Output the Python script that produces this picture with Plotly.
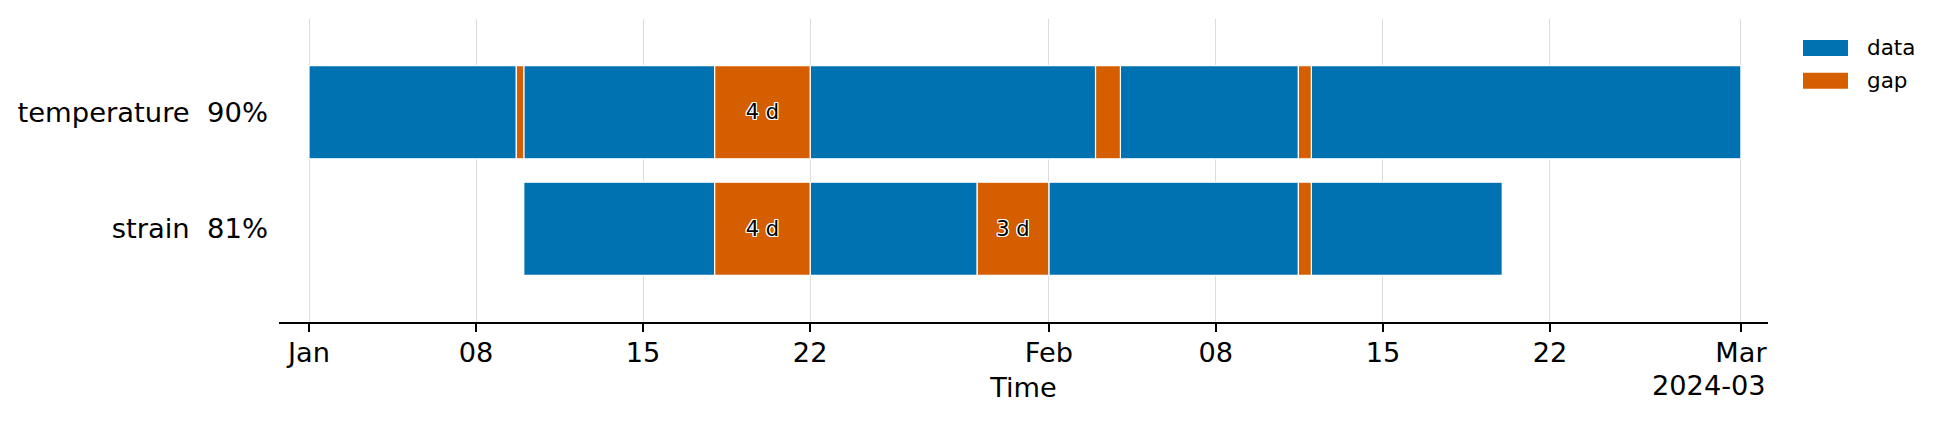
import plotly.graph_objects as go
import pandas as pd

# ---- data ----
channels = ["temperature", "strain"]
coverage_pct = [90, 81]

# segments per channel: (start, end, kind)
temperature_segments = [
    ("2024-01-01 00:00", "2024-01-09 16:30", "data"),
    ("2024-01-09 16:30", "2024-01-10 00:00", "gap"),
    ("2024-01-10 00:00", "2024-01-18 00:00", "data"),
    ("2024-01-18 00:00", "2024-01-22 00:00", "gap"),
    ("2024-01-22 00:00", "2024-02-02 23:00", "data"),
    ("2024-02-02 23:00", "2024-02-04 00:00", "gap"),
    ("2024-02-04 00:00", "2024-02-11 11:00", "data"),
    ("2024-02-11 11:00", "2024-02-12 00:00", "gap"),
    ("2024-02-12 00:00", "2024-03-01 00:00", "data"),
]
strain_segments = [
    ("2024-01-10 00:00", "2024-01-18 00:00", "data"),
    ("2024-01-18 00:00", "2024-01-22 00:00", "gap"),
    ("2024-01-22 00:00", "2024-01-29 00:00", "data"),
    ("2024-01-29 00:00", "2024-02-01 00:00", "gap"),
    ("2024-02-01 00:00", "2024-02-11 11:00", "data"),
    ("2024-02-11 11:00", "2024-02-12 00:00", "gap"),
    ("2024-02-12 00:00", "2024-02-20 00:00", "data"),
]

tick_dates = ["2024-01-01", "2024-01-08", "2024-01-15", "2024-01-22",
              "2024-02-01", "2024-02-08", "2024-02-15", "2024-02-22", "2024-03-01"]
tick_labels = ["Jan", "08", "15", "22", "Feb", "08", "15", "22", "Mar"]
offset_label = "2024-03"
x_range = ["2023-12-30 17:50", "2024-03-02 03:15"]

colors = {"data": "#0072B2", "gap": "#D55E00"}
FONT = "DejaVu Sans"
FS = 27.2

rows = []
for ch_idx, segs in zip([1, 0], [temperature_segments, strain_segments]):
    for s, e, k in segs:
        ts, te = pd.Timestamp(s), pd.Timestamp(e)
        dur_ms = (te - ts).total_seconds() * 1000
        days = (te - ts).total_seconds() / 86400
        label = f"{round(days)} d" if (k == "gap" and days >= 2) else ""
        rows.append(dict(y=ch_idx, start=s, dur=dur_ms, kind=k, label=label))
df = pd.DataFrame(rows)

fig = go.Figure()
for kind in ["data", "gap"]:
    d = df[df.kind == kind]
    fig.add_trace(go.Bar(
        orientation="h",
        y=d.y, base=d.start, x=d.dur,
        width=0.8,
        name=kind,
        marker=dict(color=colors[kind], line=dict(color="white", width=1.2)),
        text=d.label if kind == "gap" else None,
        textposition="inside" if kind == "gap" else "none",
        insidetextanchor="middle",
        textangle=0,
        textfont=dict(family=FONT, size=21, color="black",
                      shadow="-1px -1px 0 #fff, 1px -1px 0 #fff, -1px 1px 0 #fff, 1px 1px 0 #fff, 0 1px 0 #fff, 0 -1px 0 #fff, 1px 0 0 #fff, -1px 0 0 #fff"),
        showlegend=False,
        hoverinfo="skip",
    ))

ylabels = [f"{c}\u00a0\u00a0{p}%" for c, p in zip(channels, coverage_pct)]

fig.update_layout(
    width=1942, height=425,
    margin=dict(l=279, r=174, t=19, b=103),
    paper_bgcolor="white", plot_bgcolor="white",
    barmode="overlay",
    font=dict(family=FONT, size=FS, color="black"),
    showlegend=False,
    xaxis=dict(
        type="date", range=x_range,
        tickvals=tick_dates, ticktext=tick_labels,
        ticks="outside", ticklen=8, tickwidth=2, tickcolor="black",
        showline=True, linecolor="black", linewidth=2,
        showgrid=True, gridcolor="#dcdcdc", gridwidth=1,
        zeroline=False,
        ticklabelstandoff=-3,
        tickfont=dict(family=FONT, size=FS, color="black"),
        title=dict(text="Time", font=dict(family=FONT, size=FS, color="black"), standoff=11),
    ),
    yaxis=dict(
        range=[-0.8, 1.8],
        tickvals=[1, 0], ticktext=ylabels,
        showgrid=False, zeroline=False, showline=False,
        ticks="", ticklabelstandoff=10,
        tickfont=dict(family=FONT, size=27.4, color="black"),
    ),
)

# offset text for the date axis
fig.add_annotation(text=offset_label, xref="paper", yref="paper", x=1.0, y=-0.211,
                   xanchor="right", yanchor="middle", showarrow=False,
                   font=dict(family=FONT, size=FS, color="black"))

# legend (patches + labels)
legend_items = ["data", "gap"]
for i, k in enumerate(legend_items):
    top = 40 + i * 32.7
    y0 = (322 - (top + 16)) / 303
    y1 = (322 - top) / 303
    fig.add_shape(type="rect", xref="paper", yref="paper",
                  x0=(1803 - 278.7) / 1489.3, x1=(1848 - 278.7) / 1489.3,
                  y0=y0, y1=y1, fillcolor=colors[k], line=dict(width=0))
    fig.add_annotation(text=k, xref="paper", yref="paper",
                       x=(1865 - 278.7) / 1489.3, y=(y0 + y1) / 2,
                       xanchor="left", yanchor="middle", showarrow=False,
                       font=dict(family=FONT, size=21.5, color="black"))

fig.write_html("out.html", config={"displayModeBar": False},
               post_script="document.body.style.margin='0';")
